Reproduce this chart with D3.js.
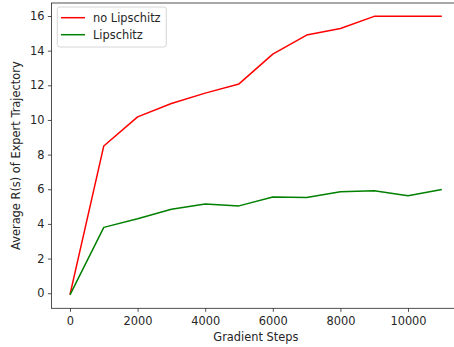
<!DOCTYPE html>
<html><head><meta charset="utf-8">
<script src="https://cdn.jsdelivr.net/npm/d3@7"></script>
<style>body{margin:0;background:#fff}svg{display:block}text{font-family:"DejaVu Sans",sans-serif;fill:#262626}</style>
</head><body><svg id="c" width="454" height="347"></svg>
<script>
const steps = [0,1000,2000,3000,4000,5000,6000,7000,8000,9000,10000,11000];
const noLipschitz = [-0.08,8.5,10.18,10.95,11.55,12.08,13.8,14.9,15.28,15.98,15.98,15.98];
const lipschitz = [-0.1,3.8,4.3,4.85,5.15,5.04,5.55,5.52,5.86,5.92,5.62,5.98];
const xTicks = [0,2000,4000,6000,8000,10000];
const yTicks = [0,2,4,6,8,10,12,14,16];
const seriesNames = ["no Lipschitz","Lipschitz"];
const colors = ["#ff0000","#008000"];

const svg = d3.select("#c");
const L=51.4, R=460.4, T=3, B=308.3;
const x = d3.scaleLinear().domain([-550,11550]).range([L,R]);
const y = d3.scaleLinear().domain([-0.87,16.75]).range([B,T]);
const fs = "11.4px";

const gx = svg.append("g").attr("transform",`translate(0,${B})`)
  .call(d3.axisBottom(x).tickValues(xTicks).tickFormat(d3.format("d")).tickSize(3.5).tickPadding(5));
const gy = svg.append("g").attr("transform",`translate(${L},0)`)
  .call(d3.axisLeft(y).tickValues(yTicks).tickFormat(d3.format("d")).tickSize(3.5).tickPadding(3.5));
[gx,gy].forEach(g=>{
  g.selectAll("text").style("font-size",fs).attr("fill","#262626");
  g.selectAll("line").attr("stroke","#262626").attr("stroke-width",0.8);
  g.select(".domain").remove();
});
// spines
svg.append("rect").attr("x",L).attr("y",T).attr("width",R-L).attr("height",B-T)
  .attr("fill","none").attr("stroke","#262626").attr("stroke-width",0.8);

const line = d3.line().x((d,i)=>x(steps[i])).y(d=>y(d));
[noLipschitz,lipschitz].forEach((s,k)=>{
  svg.append("path").datum(s).attr("d",line).attr("fill","none")
    .attr("stroke",colors[k]).attr("stroke-width",1.5).attr("stroke-linejoin","round");
});

svg.append("text").attr("x",(L+R)/2).attr("y",340.5).attr("text-anchor","middle")
  .style("font-size",fs).text("Gradient Steps");
svg.append("text").attr("transform",`translate(20,${(T+B)/2}) rotate(-90)`).attr("text-anchor","middle")
  .style("font-size",fs).text("Average R(s) of Expert Trajectory");

// legend
const lg = svg.append("g");
lg.append("rect").attr("x",57.3).attr("y",7).attr("width",109).attr("height",40).attr("rx",2.5)
  .attr("fill","#fff").attr("fill-opacity",0.8).attr("stroke","#cccccc").attr("stroke-width",0.8);
seriesNames.forEach((n,k)=>{
  const yy = 17.7 + k*17;
  lg.append("line").attr("x1",61).attr("x2",85).attr("y1",yy).attr("y2",yy)
    .attr("stroke",colors[k]).attr("stroke-width",1.5);
  lg.append("text").attr("x",93).attr("y",yy+4.5).style("font-size",fs).text(n);
});
</script></body></html>
